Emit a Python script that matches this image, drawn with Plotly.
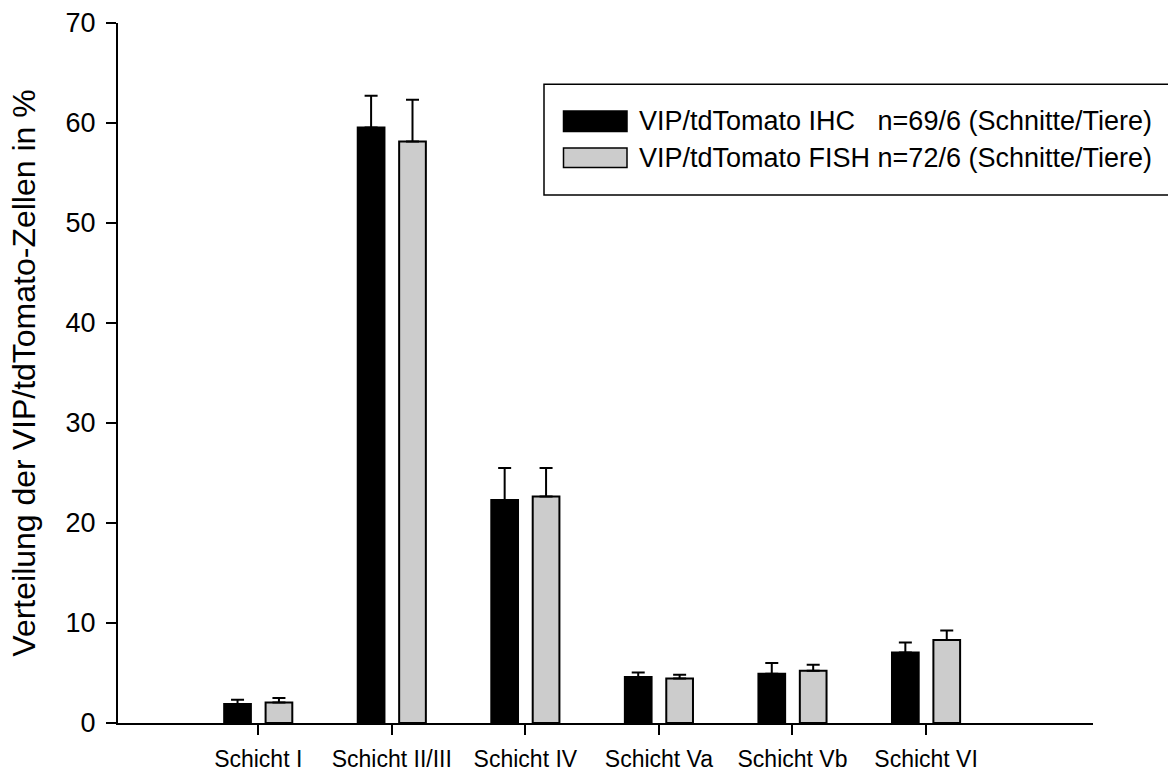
import plotly.graph_objects as go

categories = ["Schicht I", "Schicht II/III", "Schicht IV", "Schicht Va", "Schicht Vb", "Schicht VI"]
series_names = ["VIP/tdTomato IHC", "VIP/tdTomato FISH"]
series_n = ["n=69/6 (Schnitte/Tiere)", "n=72/6 (Schnitte/Tiere)"]
ihc_mean = [1.9, 59.56, 22.3, 4.6, 4.93, 7.06]
ihc_err = [0.43, 3.17, 3.2, 0.46, 1.07, 1.0]
fish_mean = [2.06, 58.16, 22.66, 4.46, 5.23, 8.3]
fish_err = [0.44, 4.17, 2.84, 0.37, 0.6, 0.96]
y_ticks = [0, 10, 20, 30, 40, 50, 60, 70]
y_title = "Verteilung der VIP/tdTomato-Zellen in %"

FONT = "Liberation Sans, Arial, sans-serif"
fills = ["#000000", "#cccccc"]

fig = go.Figure()
for name, mean, err, fill, off in [
    (series_names[0], ihc_mean, ihc_err, fills[0], -0.255),
    (series_names[1], fish_mean, fish_err, fills[1], 0.055),
]:
    fig.add_trace(go.Bar(
        x=categories, y=mean, name=name,
        width=0.2, offset=off,
        marker=dict(color=fill, line=dict(color="black", width=2)),
        error_y=dict(type="data", symmetric=False, array=err, arrayminus=[0] * len(err),
                     color="black", thickness=2, width=6.5),
        showlegend=False,
    ))

W, H = 1168, 774
L, R, T, B = 118, 75, 23, 51
pw, ph = W - L - R, H - T - B

def px(x):
    return (x - L) / pw

def py(y):
    return (H - B - y) / ph

shapes = [
    dict(type="rect", xref="paper", yref="paper", x0=px(544), x1=px(1185), y0=py(195), y1=py(84.3),
         line=dict(color="black", width=1.5), fillcolor="rgba(0,0,0,0)", layer="above"),
    dict(type="rect", xref="paper", yref="paper", x0=px(563.5), x1=px(627), y0=py(131.5), y1=py(111),
         line=dict(color="black", width=1.5), fillcolor=fills[0]),
    dict(type="rect", xref="paper", yref="paper", x0=px(563.5), x1=px(627), y0=py(167.5), y1=py(148),
         line=dict(color="black", width=1.5), fillcolor=fills[1]),
]
annotations = [
    dict(xref="paper", yref="paper", x=px(637), y=py(121), xanchor="left", yanchor="middle",
         text=series_names[0] + "\u00a0\u00a0\u00a0" + series_n[0], showarrow=False,
         font=dict(family=FONT, size=27, color="black")),
    dict(xref="paper", yref="paper", x=px(637), y=py(158), xanchor="left", yanchor="middle",
         text=series_names[1] + " " + series_n[1], showarrow=False,
         font=dict(family=FONT, size=27, color="black")),
]

fig.update_layout(
    width=W, height=H,
    margin=dict(l=L, r=R, t=T, b=B, autoexpand=False),
    paper_bgcolor="white", plot_bgcolor="white",
    barmode="overlay",
    font=dict(family=FONT, color="black"),
    shapes=shapes, annotations=annotations,
    xaxis=dict(
        range=[-1.05, 6.25], showgrid=False, zeroline=False,
        showline=True, linecolor="black", linewidth=2,
        ticks="outside", ticklen=10, tickwidth=2, tickcolor="black",
        tickfont=dict(family=FONT, size=23, color="black"),
        ticklabelstandoff=4,
    ),
    yaxis=dict(
        range=[0, 70], tickvals=y_ticks, showgrid=False, zeroline=False,
        showline=True, linecolor="black", linewidth=2,
        ticks="outside", ticklen=10, tickwidth=2, tickcolor="black",
        tickfont=dict(family=FONT, size=27, color="black"),
        ticklabelstandoff=5,
        title=dict(text=y_title, font=dict(family=FONT, size=32, color="black"), standoff=20),
    ),
)

fig.write_html("out.html")
